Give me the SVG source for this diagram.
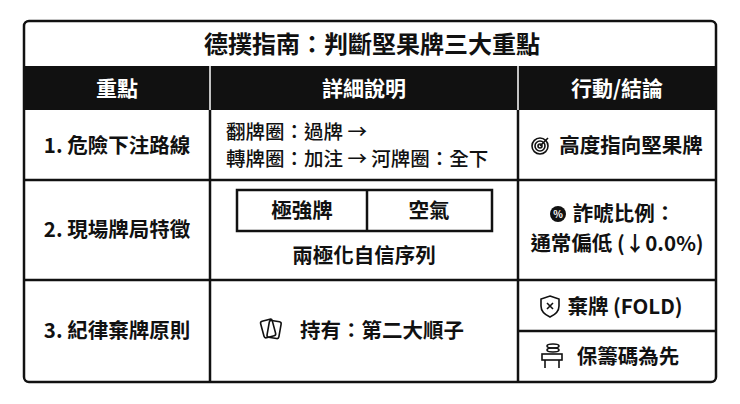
<svg xmlns="http://www.w3.org/2000/svg" width="740" height="404" viewBox="0 0 740 404">
<style>
text{font-family:"Noto Sans CJK TC","Noto Sans",sans-serif;fill:#111;font-weight:700}
.t{font-size:24px;text-anchor:middle}
.h{font-size:21px;fill:#fff;text-anchor:middle}
.c{font-size:20.5px;text-anchor:middle}
.l{font-size:19.5px;font-weight:500}
.ln{stroke:#111;stroke-width:2.5;fill:none}
.ic{stroke:#111;stroke-width:1.6;fill:none}
</style>
<rect width="740" height="404" fill="#fff"/>
<g id="table">
<rect x="24" y="21" width="692" height="361" rx="5" fill="#fff" class="ln"/>
<rect x="24" y="66" width="692" height="44" fill="#111"/>
<line x1="210" y1="66" x2="210" y2="382" class="ln"/>
<line x1="518" y1="66" x2="518" y2="382" class="ln"/>
<line x1="210" y1="66" x2="210" y2="110" stroke="#fff" stroke-width="1.5"/>
<line x1="518" y1="66" x2="518" y2="110" stroke="#fff" stroke-width="1.5"/>
<line x1="24" y1="180" x2="716" y2="180" class="ln"/>
<line x1="24" y1="280" x2="716" y2="280" class="ln"/>
<line x1="518" y1="331" x2="716" y2="331" class="ln"/>
</g>
<g id="title"><text class="t" x="372" y="53">德撲指南：判斷堅果牌三大重點</text></g>
<g id="header">
<text class="h" x="117" y="96">重點</text>
<text class="h" x="364" y="96">詳細說明</text>
<text class="h" x="617" y="96">行動/結論</text>
</g>
<g id="row1">
<text class="c" x="117" y="153">1. 危險下注路線</text>
<text class="l" x="226" y="139">翻牌圈：過牌 →</text>
<text class="l" x="226" y="166">轉牌圈：加注 → 河牌圈：全下</text>
<g class="ic"><circle cx="540" cy="146" r="8"/><circle cx="540" cy="146" r="5"/><circle cx="540" cy="146" r="2"/><line x1="540" y1="146" x2="548" y2="138"/></g>
<text class="c" x="631" y="153">高度指向堅果牌</text>
</g>
<g id="row2">
<text class="c" x="117" y="237">2. 現場牌局特徵</text>
<rect x="237" y="190" width="255" height="41" class="ln"/>
<line x1="367" y1="190" x2="367" y2="231" class="ln"/>
<text class="c" x="302" y="218">極強牌</text>
<text class="c" x="429" y="218">空氣</text>
<text class="c" x="364" y="263">兩極化自信序列</text>
<circle cx="558" cy="214" r="8" fill="#111"/>
<text x="558" y="218" font-size="10" style="fill:#fff" text-anchor="middle">%</text>
<text class="c" x="624" y="221">詐唬比例：</text>
<text class="c" x="617" y="251">通常偏低 (↓0.0%)</text>
</g>
<g id="row3">
<text class="c" x="117" y="338">3. 紀律棄牌原則</text>
<g class="ic"><rect x="262" y="320" width="12" height="17" rx="2" transform="rotate(-15 268 328)"/><rect x="268" y="321" width="12" height="17" rx="2" transform="rotate(10 274 330)"/></g>
<text class="c" x="382" y="338">持有：第二大順子</text>
<path d="M550 296 l9 3 v7 q0 7 -9 11 q-9 -4 -9 -11 v-7 z" class="ic"/>
<path d="M547 303 l6 6 M553 303 l-6 6" class="ic"/>
<text class="c" x="625" y="314">棄牌 (FOLD)</text>
<g class="ic"><ellipse cx="553" cy="346" rx="6" ry="2"/><ellipse cx="553" cy="350" rx="6" ry="2"/><rect x="542" y="354" width="20" height="6"/><line x1="545" y1="360" x2="545" y2="368"/><line x1="559" y1="360" x2="559" y2="368"/></g>
<text class="c" x="628" y="364">保籌碼為先</text>
</g>
</svg>
